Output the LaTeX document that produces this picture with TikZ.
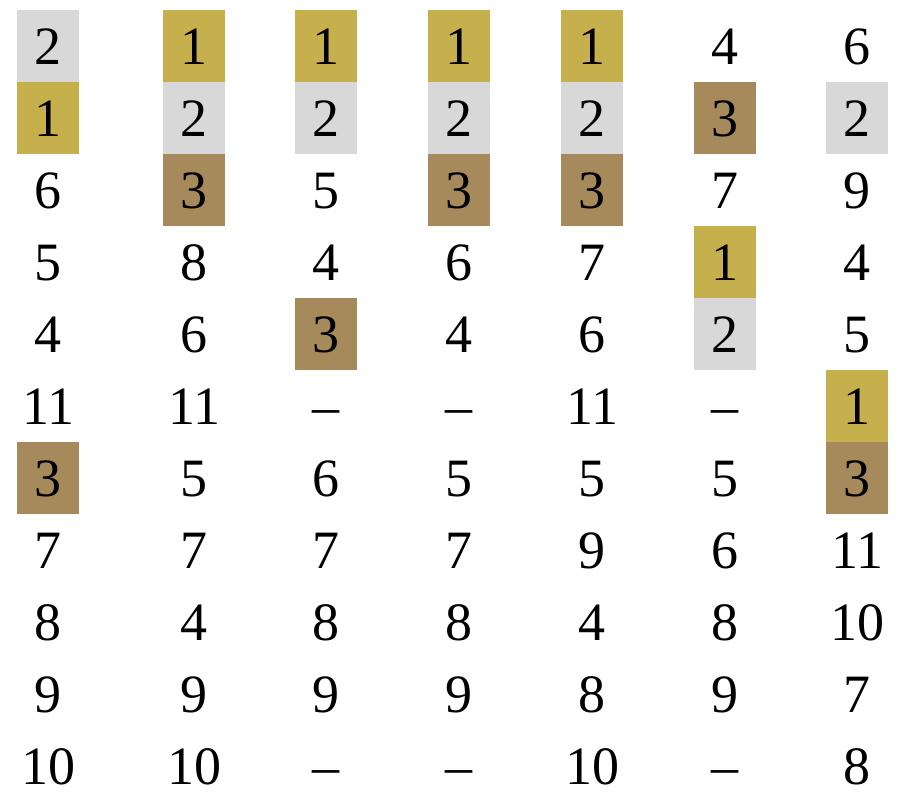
\documentclass[tikz,border=0pt]{standalone}
\usepackage{fontspec}
\setmainfont{Liberation Serif}
\usepackage{xcolor}
\definecolor{gold}{RGB}{198,176,78}
\definecolor{brown}{RGB}{166,138,92}
\definecolor{lightgray}{RGB}{216,216,216}
\tikzset{font={\fontsize{54pt}{60}\selectfont}}

\begin{document}
\begin{tikzpicture}[x=1pt,y=-1pt,
cell/.style={minimum width=62pt,minimum height=72pt,inner sep=0pt,text height=37pt,text depth=0pt},
pl/.style={cell},
gy/.style={cell,fill=lightgray},
gd/.style={cell,fill=gold},
br/.style={cell,fill=brown}
]
\useasboundingbox (0,0) rectangle (900,800);
% one column per loop, rows 72pt apart
\foreach \v/\s [count=\r] in {2/gy,1/gd,6/pl,5/pl,4/pl,11/pl,3/br,7/pl,8/pl,9/pl,10/pl}
  \node[\s] (c1r\r) at (48,{46+72*(\r-1)}) {\v};
\foreach \v/\s [count=\r] in {1/gd,2/gy,3/br,8/pl,6/pl,11/pl,5/pl,7/pl,4/pl,9/pl,10/pl}
  \node[\s] (c2r\r) at (194,{46+72*(\r-1)}) {\v};
\foreach \v/\s [count=\r] in {1/gd,2/gy,5/pl,4/pl,3/br,\textendash/pl,6/pl,7/pl,8/pl,9/pl,\textendash/pl}
  \node[\s] (c3r\r) at (326,{46+72*(\r-1)}) {\v};
\foreach \v/\s [count=\r] in {1/gd,2/gy,3/br,6/pl,4/pl,\textendash/pl,5/pl,7/pl,8/pl,9/pl,\textendash/pl}
  \node[\s] (c4r\r) at (459,{46+72*(\r-1)}) {\v};
\foreach \v/\s [count=\r] in {1/gd,2/gy,3/br,7/pl,6/pl,11/pl,5/pl,9/pl,4/pl,8/pl,10/pl}
  \node[\s] (c5r\r) at (592,{46+72*(\r-1)}) {\v};
\foreach \v/\s [count=\r] in {4/pl,3/br,7/pl,1/gd,2/gy,\textendash/pl,5/pl,6/pl,8/pl,9/pl,\textendash/pl}
  \node[\s] (c6r\r) at (725,{46+72*(\r-1)}) {\v};
\foreach \v/\s [count=\r] in {6/pl,2/gy,9/pl,4/pl,5/pl,1/gd,3/br,11/pl,10/pl,7/pl,8/pl}
  \node[\s] (c7r\r) at (857,{46+72*(\r-1)}) {\v};
\end{tikzpicture}
\end{document}
